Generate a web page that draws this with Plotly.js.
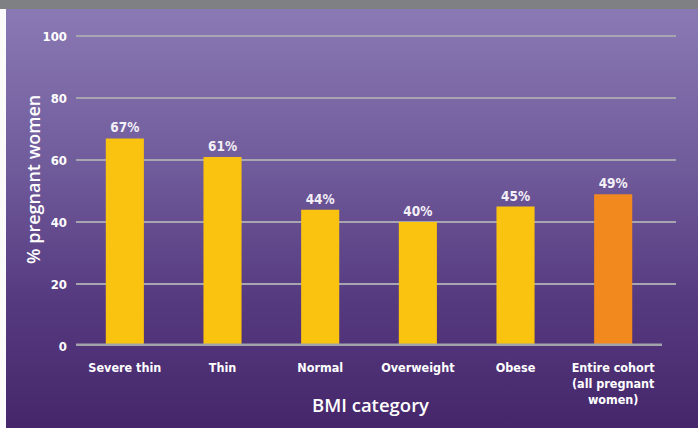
<!DOCTYPE html>
<html>
<head>
<meta charset="utf-8">
<script src="https://cdn.plot.ly/plotly-3.0.1.min.js"></script>
<style>
  html, body { margin: 0; padding: 0; background: #fbfbfb; }
  #wrap { position: relative; width: 698px; height: 428px; overflow: hidden; }
  #bg { position: absolute; left: 6px; top: 0; width: 692px; height: 428px;
        background: linear-gradient(to bottom, #8b7bb5 0%, #6f5a9a 40%, #563a80 70%, #45266a 100%); }
  #strip { position: absolute; left: 0; top: 0; width: 698px; height: 9px; background: #7f8083; }
  #chart { position: absolute; left: 0; top: 0; width: 698px; height: 428px; }
</style>
</head>
<body>
<div id="wrap">
  <div id="bg"></div>
  <div id="strip"></div>
  <div id="chart"></div>
</div>
<script>
const categories = ["Severe thin", "Thin", "Normal", "Overweight", "Obese", "Entire cohort<br>(all pregnant<br>women)"];
const values = [67, 61, 44, 40, 45, 49];
const barColors = ["#f9c30f", "#f9c30f", "#f9c30f", "#f9c30f", "#f9c30f", "#f2891f"];
const yTicks = [0, 20, 40, 60, 80, 100];
const xTitle = "BMI category";
const yTitle = "% pregnant women";

const narrow = "'DejaVu Sans Condensed', 'Liberation Sans Narrow', sans-serif";
const semi = "'Open Sans', 'Noto Sans', sans-serif";

const trace = {
  type: "bar",
  x: categories,
  y: values,
  width: 0.39,
  marker: { color: barColors, line: { width: 0 } },
  text: values.map(v => v + "%"),
  textposition: "outside",
  textfont: { family: narrow, size: 13.5, color: "#f3eff7", weight: 700 },
  cliponaxis: false,
  hoverinfo: "skip"
};

const layout = {
  width: 698, height: 428,
  margin: { l: 76, r: 22, t: 30, b: 82 },
  paper_bgcolor: "rgba(0,0,0,0)",
  plot_bgcolor: "rgba(0,0,0,0)",
  showlegend: false,
  xaxis: {
    type: "category",
    range: [-0.5, 5.643],
    showgrid: false, zeroline: false, showline: false,
    ticks: "", ticklabelstandoff: 12,
    tickfont: { family: narrow, size: 12.5, color: "#ffffff", weight: 700 },
    fixedrange: true
  },
  yaxis: {
    range: [0, 102],
    tickvals: yTicks,
    showgrid: true, gridcolor: "#a6a5b0", gridwidth: 2,
    zeroline: false, showline: false,
    ticks: "", ticklabelstandoff: 8,
    tickfont: { family: narrow, size: 13, color: "#ffffff", weight: 700 },
    fixedrange: true
  },
  shapes: [{
    type: "line", xref: "x", yref: "y", x0: -0.5, x1: 5.5, y0: 0, y1: 0,
    line: { color: "#a3a3ab", width: 5 }, layer: "above"
  }],
  annotations: [
    { text: xTitle, xref: "paper", yref: "paper", x: (370 - 76) / 600, y: -(404 - 346) / 316,
      showarrow: false, xanchor: "center", yanchor: "middle",
      font: { family: semi, size: 18.5, color: "#ffffff", weight: 600 } },
    { text: yTitle, xref: "paper", yref: "paper", x: (33 - 76) / 600, y: (346 - 180) / 316,
      showarrow: false, xanchor: "center", yanchor: "middle", textangle: -90,
      font: { family: semi, size: 18, color: "#ffffff", weight: 600 } }
  ]
};

Plotly.newPlot("chart", [trace], layout, { displayModeBar: false, staticPlot: true });
</script>
</body>
</html>
